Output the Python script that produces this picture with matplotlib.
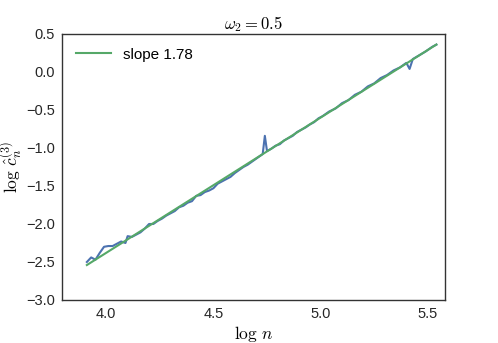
import matplotlib
matplotlib.use("Agg")
import matplotlib.pyplot as plt

# log n and log c_hat values
log_n = [3.91, 3.93, 3.95, 3.97, 3.99, 4.01, 4.03, 4.05, 4.07, 4.09,
         4.10, 4.12, 4.14, 4.16, 4.18, 4.20, 4.22, 4.24, 4.26, 4.28,
         4.30, 4.32, 4.34, 4.36, 4.38, 4.40, 4.42, 4.44, 4.46, 4.48,
         4.50, 4.52, 4.54, 4.56, 4.58, 4.60, 4.62, 4.64, 4.66, 4.68,
         4.70, 4.72, 4.73, 4.74, 4.75, 4.77, 4.79, 4.81, 4.83, 4.85,
         4.87, 4.89, 4.91, 4.93, 4.95, 4.97, 4.99, 5.01, 5.04, 5.07,
         5.10, 5.13, 5.16, 5.19, 5.22, 5.25, 5.28, 5.31, 5.34, 5.37,
         5.40, 5.415, 5.43, 5.46, 5.49, 5.52, 5.54]
log_c = [-2.50, -2.44, -2.47, -2.38, -2.30, -2.29, -2.29, -2.26, -2.23, -2.25,
         -2.16, -2.17, -2.14, -2.11, -2.06, -2.00, -2.00, -1.96, -1.93, -1.89,
         -1.86, -1.83, -1.78, -1.76, -1.72, -1.70, -1.63, -1.62, -1.58, -1.56,
         -1.53, -1.47, -1.44, -1.41, -1.38, -1.33, -1.29, -1.25, -1.22, -1.18,
         -1.14, -1.10, -1.08, -0.84, -1.04, -1.01, -0.97, -0.95, -0.90, -0.87,
         -0.84, -0.79, -0.76, -0.73, -0.69, -0.66, -0.61, -0.58, -0.52, -0.48,
         -0.41, -0.37, -0.30, -0.26, -0.19, -0.15, -0.08, -0.04, 0.02, 0.06,
         0.12, 0.04, 0.17, 0.22, 0.27, 0.33, 0.36]

fit_slope = 1.78
fit_intercept = -9.50
fit_x = [3.91, 5.54]

plt.rcParams['font.family'] = ['Liberation Sans', 'DejaVu Sans']
plt.rcParams['mathtext.fontset'] = 'cm'

fig = plt.figure(figsize=(4.98, 3.43), dpi=100)
ax = fig.add_axes([0.1245, 0.1254, 0.769, 0.7755])

ax.plot(log_n, log_c, color='#4C72B0', lw=1.5)
fit_y = [fit_slope * x + fit_intercept for x in fit_x]
ax.plot(fit_x, fit_y, color='#55A868', lw=1.5, label='slope %.2f' % fit_slope)

ax.set_xlim(3.794, 5.58)
ax.set_ylim(-3.0, 0.5)
ax.set_xticks([4.0, 4.5, 5.0, 5.5])
ax.set_yticks([-3.0, -2.5, -2.0, -1.5, -1.0, -0.5, 0.0, 0.5])

for s in ax.spines.values():
    s.set_color('#333333')
    s.set_linewidth(1.0)
ax.tick_params(length=0, pad=5, labelsize=10.5, colors='#262626')

ax.set_title(r'$\omega_2=0.5$', fontsize=12, pad=2)
ax.set_xlabel(r'$\log\,n$', fontsize=12.5, labelpad=2)
ax.set_ylabel(r'$\log\,\hat{c}^{(3)}_n$', fontsize=12.5, labelpad=1)

ax.legend(loc='upper left', frameon=False, fontsize=11, handlelength=2.3)

fig.savefig('out.png', dpi=100)
